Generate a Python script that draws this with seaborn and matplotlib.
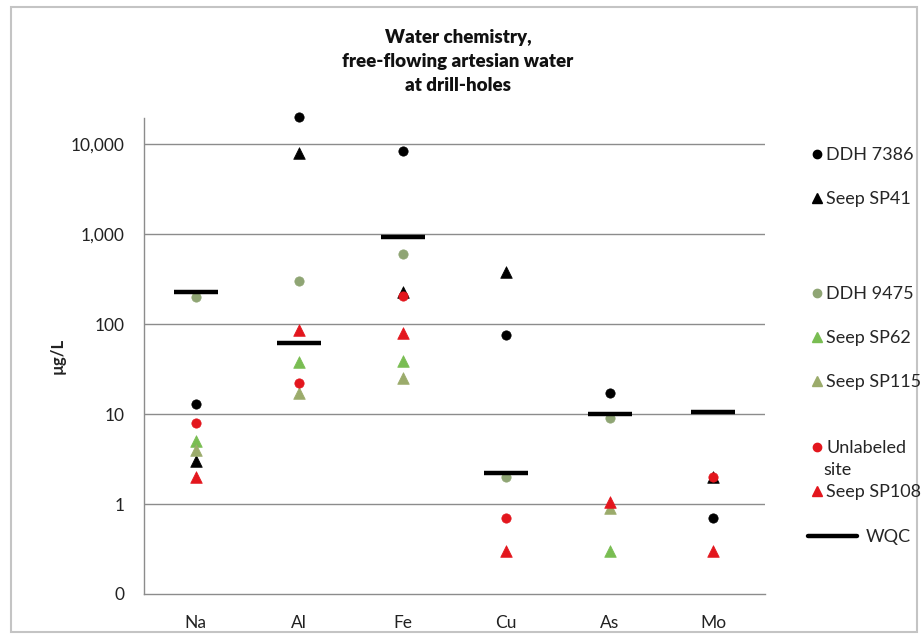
import numpy as np
import matplotlib
matplotlib.use("Agg")
import matplotlib.pyplot as plt
import seaborn as sns
from matplotlib.lines import Line2D
from matplotlib.patches import Rectangle
from matplotlib.ticker import FixedLocator, FuncFormatter, NullLocator

# values in ug/L (NaN = not plotted)
elements = ["Na", "Al", "Fe", "Cu", "As", "Mo"]
ddh_7386 = [13, 20000, 8300, 76, 17, 0.7]
seep_sp41 = [3, 8000, 230, 380, np.nan, 2]
ddh_9475 = [200, 300, 600, 2, 9, np.nan]
seep_sp62 = [5, 38, 39, np.nan, 0.3, np.nan]
seep_sp115 = [4, 17, 25, np.nan, 0.9, np.nan]
unlabeled_site = [8, 22, 205, 0.7, np.nan, 2]
seep_sp108 = [2, 85, 80, 0.3, 1.05, 0.3]
wqc = [230, 62, 920, 2.2, 10, 10.5]

sns.set_style("white")
plt.rcParams["font.family"] = ["Lato", "DejaVu Sans"]

fig = plt.figure(figsize=(9.23, 6.39), dpi=100)
ax = fig.add_axes([144 / 923, 45 / 639, 621 / 923, 476 / 639])
ax.set_yscale("log")

red = "#e3161d"
green = "#79bd52"
olive = "#9bab6b"
greygreen = "#8fa574"

series = [
    ("DDH 7386", ddh_7386, "o", "black", 45),
    ("Seep SP41", seep_sp41, "^", "black", 70),
    ("DDH 9475", ddh_9475, "o", greygreen, 45),
    ("Seep SP62", seep_sp62, "^", green, 70),
    ("Seep SP115", seep_sp115, "^", olive, 70),
    ("Unlabeled site", unlabeled_site, "o", red, 45),
    ("Seep SP108", seep_sp108, "^", red, 70),
]

for label, vals, marker, color, size in series:
    sns.scatterplot(x=elements, y=vals, marker=marker, color=color, s=size,
                    edgecolor=color, linewidth=0.5, ax=ax, zorder=3, clip_on=False)

# water quality criteria as short bars
sns.scatterplot(x=elements, y=wqc, marker="_", color="black", s=960,
                linewidth=3.2, ax=ax, zorder=4)

ax.set_xlim(-0.5, 5.5)
ax.set_ylim(0.1, 10 ** 4.29)

ax.yaxis.set_major_locator(FixedLocator([0.1, 1, 10, 100, 1000, 10000]))
ax.yaxis.set_minor_locator(NullLocator())
ax.yaxis.set_major_formatter(FuncFormatter(lambda v, p: f"{v:,.0f}"))
for yv in [1, 10, 100, 1000, 10000]:
    ax.axhline(yv, color="#8c8c8c", lw=1, zorder=1)

ax.xaxis.set_minor_locator(FixedLocator(np.arange(-0.5, 6, 1)))
ax.tick_params(axis="x", which="major", length=0, pad=15, labelsize=12.5, colors="#222222")
ax.tick_params(axis="x", which="minor", length=5, width=1, color="#8c8c8c", direction="out")
ax.tick_params(axis="y", which="major", length=5, width=1, color="#8c8c8c", direction="out",
               pad=9, labelsize=12.5, labelcolor="#222222")

for side in ["top", "right"]:
    ax.spines[side].set_visible(False)
for side in ["left", "bottom"]:
    ax.spines[side].set_color("#8c8c8c")
    ax.spines[side].set_linewidth(1)

ax.set_ylabel("µg/L", fontsize=12, fontweight="bold", color="#222222")
ax.yaxis.set_label_coords(-0.127, 0.5)

fig.text(458 / 923, 1 - 29 / 639, "Water chemistry,\nfree-flowing artesian water\nat drill-holes",
         ha="center", va="top", fontsize=13.5, fontweight="heavy", linespacing=1.5, color="#111111")

# legend, one entry at a time so the gaps match
legend_rows = [
    ("DDH 7386", "o", "black", 155),
    ("Seep SP41", "^", "black", 199),
    ("DDH 9475", "o", greygreen, 294),
    ("Seep SP62", "^", green, 338),
    ("Seep SP115", "^", olive, 382),
    ("Unlabeled", "o", red, 448),
    ("Seep SP108", "^", red, 492),
]
for label, marker, color, ypix in legend_rows:
    h = Line2D([], [], marker=marker, color=color, linestyle="none",
               markersize=6 if marker == "o" else 7)
    fig.legend(handles=[h], labels=[label], loc="center left",
               bbox_to_anchor=(811 / 923, 1 - ypix / 639), frameon=False,
               borderpad=0, borderaxespad=0, handlelength=0.7, handletextpad=0.15,
               fontsize=13)
fig.text(823 / 923, 1 - 470 / 639, "site", ha="left", va="center", fontsize=13, color="#222222")
h = Line2D([], [], color="black", lw=3.2)
fig.legend(handles=[h], labels=["WQC"], loc="center left",
           bbox_to_anchor=(808 / 923, 1 - 537 / 639), frameon=False,
           borderpad=0, borderaxespad=0, handlelength=2.7, handletextpad=0.5, fontsize=13)

fig.patches.append(Rectangle((11 / 923, 7 / 639), 906 / 923, 625 / 639, transform=fig.transFigure,
                             fill=False, edgecolor="#c4c4c4", lw=1.5))

fig.savefig("out.png", dpi=100)
